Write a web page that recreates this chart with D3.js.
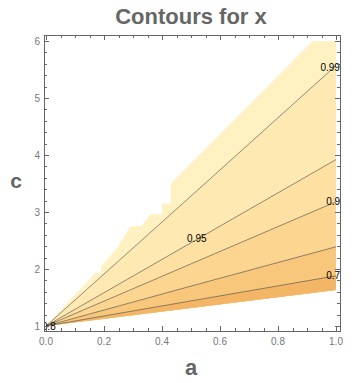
<!DOCTYPE html>
<html>
<head>
<meta charset="utf-8">
<title>Contours for x</title>
<script src="https://d3js.org/d3.v7.min.js"></script>
<style>
  body { margin: 0; background: #fff; }
  svg { display: block; font-family: "Liberation Sans", Arial, sans-serif; }
</style>
</head>
<body>
<script>
// contour levels, bottom line first
var levels = [0.7, 0.8, 0.9, 0.95, 0.99];
// each contour line as [a, c] points
var contourLines = [
  [[0, 1], [0.5, 1.44], [1, 1.88]],
  [[0, 1], [0.5, 1.70], [1, 2.39]],
  [[0, 1], [0.5, 2.09], [1, 3.18]],
  [[0, 1], [0.5, 2.46], [1, 3.92]],
  [[0, 1], [0.5, 3.28], [1, 5.57]]
];
// where each label sits
var labelAt = [[0.99, 1.88], [0.01, 1.0], [0.99, 3.18], [0.52, 2.54], [0.98, 5.54]];
// outline of the region where the function is defined
var upperEdge = [[0, 1], [0.17, 1.93], [0.19, 1.93], [0.19, 2.05], [0.24, 2.33], [0.29, 2.74],
  [0.33, 2.76], [0.36, 2.96], [0.40, 2.96], [0.40, 3.15], [0.43, 3.15], [0.43, 3.5],
  [0.92, 6.0], [1, 6.0]];
var lowerEdge = [[0, 1], [1, 1.63]];

var xTicks = [0, 0.2, 0.4, 0.6, 0.8, 1.0];
var yTicks = [1, 2, 3, 4, 5, 6];

var bandColors = ["#f3b667", "#f8c77c", "#fcd590", "#fee0a2", "#ffe9b3", "#fff1c2"];

var W = 360, H = 383;
var x = d3.scaleLinear().domain([0, 1]).range([46, 336]);
var y = d3.scaleLinear().domain([1, 6]).range([326, 41]);
var pL = 44, pR = 340, pT = 35, pB = 331;

var svg = d3.select("body").append("svg").attr("width", W).attr("height", H);

svg.append("defs").append("clipPath").attr("id", "plot")
  .append("rect").attr("x", pL).attr("y", pT)
  .attr("width", pR - pL).attr("height", pB - pT);

var line = d3.line().x(function(d) { return x(d[0]); }).y(function(d) { return y(d[1]); });

var g = svg.append("g").attr("clip-path", "url(#plot)");

// whole region, lightest band
var region = upperEdge.concat(lowerEdge.slice().reverse());
g.append("path").attr("d", line(region) + "Z").attr("fill", bandColors[5]);

// darker bands: area under each contour down to the lower edge (top first)
for (var i = levels.length - 1; i >= 0; i--) {
  var poly = contourLines[i].concat(lowerEdge.slice().reverse());
  g.append("path").attr("d", line(poly) + "Z").attr("fill", bandColors[i]);
}

g.selectAll("path.cl")
  .data(contourLines)
  .enter().append("path")
  .attr("class", "cl")
  .attr("d", line)
  .attr("fill", "none")
  .attr("stroke", "#4a4a4a")
  .attr("stroke-opacity", 0.6)
  .attr("stroke-width", 1);

g.selectAll("text.lab")
  .data(levels)
  .enter().append("text")
  .attr("class", "lab")
  .attr("x", function(d, i) { return x(labelAt[i][0]); })
  .attr("y", function(d, i) { return y(labelAt[i][1]); })
  .attr("text-anchor", "middle")
  .attr("dy", "0.35em")
  .attr("font-size", "10px")
  .attr("fill", "#000")
  .text(function(d) { return d; });

// frame
svg.append("rect").attr("x", pL + 0.5).attr("y", pT + 0.5)
  .attr("width", pR - pL).attr("height", pB - pT)
  .attr("fill", "none").attr("stroke", "#666").attr("stroke-width", 1);

// ticks, inward on all four sides
var xMinor = d3.range(0, 1.0001, 0.05);
var yMinor = d3.range(1, 6.0001, 0.2);
function isMajor(v, arr) { return arr.some(function(t) { return Math.abs(t - v) < 1e-6; }); }

var tg = svg.append("g").attr("stroke", "#666").attr("stroke-width", 1);
xMinor.forEach(function(v) {
  var len = isMajor(v, xTicks) ? 5 : 3;
  var px = Math.round(x(v)) + 0.5;
  tg.append("line").attr("x1", px).attr("x2", px).attr("y1", pB).attr("y2", pB - len);
  tg.append("line").attr("x1", px).attr("x2", px).attr("y1", pT).attr("y2", pT + len);
});
yMinor.forEach(function(v) {
  var len = isMajor(v, yTicks) ? 5 : 3;
  var py = Math.round(y(v)) + 0.5;
  tg.append("line").attr("x1", pL).attr("x2", pL + len).attr("y1", py).attr("y2", py);
  tg.append("line").attr("x1", pR).attr("x2", pR - len).attr("y1", py).attr("y2", py);
});

svg.selectAll("text.xt")
  .data(xTicks)
  .enter().append("text")
  .attr("class", "xt")
  .attr("x", function(d) { return x(d); })
  .attr("y", pB + 14)
  .attr("text-anchor", "middle")
  .attr("font-size", "10px")
  .attr("fill", "#777")
  .text(function(d) { return d3.format(".1f")(d); });

svg.selectAll("text.yt")
  .data(yTicks)
  .enter().append("text")
  .attr("class", "yt")
  .attr("x", pL - 4)
  .attr("y", function(d) { return y(d); })
  .attr("dy", "0.35em")
  .attr("text-anchor", "end")
  .attr("font-size", "10px")
  .attr("fill", "#777")
  .text(function(d) { return d; });

svg.append("text")
  .attr("x", 191).attr("y", 24)
  .attr("text-anchor", "middle")
  .attr("font-size", "22px").attr("font-weight", "bold")
  .attr("fill", "#666")
  .text("Contours for x");

svg.append("text")
  .attr("x", 191).attr("y", 375)
  .attr("text-anchor", "middle")
  .attr("font-size", "22px").attr("font-weight", "bold")
  .attr("fill", "#666")
  .text("a");

svg.append("text")
  .attr("x", 16).attr("y", 188)
  .attr("text-anchor", "middle")
  .attr("font-size", "21px").attr("font-weight", "bold")
  .attr("fill", "#666")
  .text("c");
</script>
</body>
</html>
